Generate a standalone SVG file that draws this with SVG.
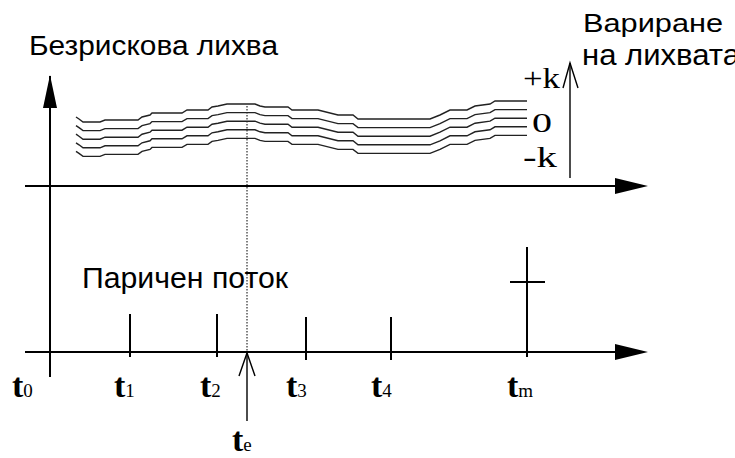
<svg xmlns="http://www.w3.org/2000/svg" width="735" height="458" viewBox="0 0 735 458">
<style>
.ax{stroke:#000;stroke-width:2;fill:none}
.tk{stroke:#000;stroke-width:2;fill:none}
.thin{stroke:#000;stroke-width:1.4;fill:none}
.wave{stroke:#222;stroke-width:1.4;fill:none}
.sans{font-family:"Liberation Sans",Arial,sans-serif;fill:#000}
.ser{font-family:"Liberation Serif","Times New Roman",serif;fill:#000}
.t{font-size:34px;font-weight:bold}
.sub{font-size:19px}
</style>
<defs>
<path id="w" d="M76,117 L79,119 L83,122 L100,122 L105,120 L138,120 L142,117 L150,115 L152,113 L182,113 L187,110 L208,110 L212,107 L218,106 L227,104 L255,104 L260,106 L265,107 L288,107 L292,110 L318,110 L338,115 L353,115 L358,119 L430,119 L440,115 L450,110 L467,110 L475,106 L490,104 L495,101 L527,101"/>
</defs>

<g id="connectors">
<line class="ax" x1="50" y1="377" x2="50" y2="76"/>
<path d="M43,108 L50,75 L57,108 Z" fill="#000"/>
<line class="ax" x1="25" y1="186" x2="616" y2="186"/>
<path d="M615,178 L648,186 L615,194 Z" fill="#000"/>
<line class="ax" x1="25" y1="352" x2="616" y2="352"/>
<path d="M615,344 L648,352 L615,360 Z" fill="#000"/>
<line x1="247" y1="106" x2="247" y2="352" stroke="#000" stroke-width="1" stroke-dasharray="1.5,1.5"/>
<line class="thin" x1="247" y1="421" x2="247" y2="353"/>
<path class="thin" d="M239,376 L247,353 L255,376"/>
<line class="thin" x1="570" y1="178" x2="570" y2="63"/>
<path class="thin" d="M563,88 L570,63 L578,88"/>
</g>

<g id="ticks">
<line class="tk" x1="130" y1="314" x2="130" y2="357"/>
<line class="tk" x1="217" y1="314" x2="217" y2="357"/>
<line class="tk" x1="306" y1="317" x2="306" y2="360"/>
<line class="tk" x1="391" y1="317" x2="391" y2="360"/>
<line class="tk" x1="527" y1="247" x2="527" y2="357"/>
<line class="tk" x1="510" y1="282" x2="545" y2="282"/>
</g>

<g id="waves">
<use href="#w" class="wave"/>
<use href="#w" class="wave" transform="translate(0,8.6)"/>
<use href="#w" class="wave" transform="translate(0,17.2)"/>
<use href="#w" class="wave" transform="translate(0,25.8)"/>
<use href="#w" class="wave" transform="translate(0,34.4)"/>
</g>

<g id="title">
<text class="sans" x="29" y="55" font-size="27" textLength="249" lengthAdjust="spacingAndGlyphs">Безрискова лихва</text>
</g>
<g id="variation-label">
<text class="sans" x="583" y="32" font-size="25" textLength="140" lengthAdjust="spacingAndGlyphs">Вариране</text>
<text class="sans" x="582" y="65" font-size="30" textLength="158" lengthAdjust="spacingAndGlyphs">на лихвата</text>
</g>
<g id="k-labels">
<text class="ser" x="523" y="88" font-size="30" textLength="37" lengthAdjust="spacingAndGlyphs">+k</text>
<text class="ser" x="532" y="132" font-size="28" textLength="20" lengthAdjust="spacingAndGlyphs">0</text>
<text class="ser" x="523" y="167" font-size="30" textLength="34" lengthAdjust="spacingAndGlyphs">-k</text>
</g>
<g id="cashflow-label">
<text class="sans" x="82" y="288" font-size="29" textLength="206" lengthAdjust="spacingAndGlyphs">Паричен поток</text>
</g>
<g id="time-labels">
<text class="ser" x="12" y="397"><tspan class="t">t</tspan><tspan class="sub">0</tspan></text>
<text class="ser" x="114" y="397"><tspan class="t">t</tspan><tspan class="sub">1</tspan></text>
<text class="ser" x="200" y="397"><tspan class="t">t</tspan><tspan class="sub">2</tspan></text>
<text class="ser" x="286" y="397"><tspan class="t">t</tspan><tspan class="sub">3</tspan></text>
<text class="ser" x="371" y="397"><tspan class="t">t</tspan><tspan class="sub">4</tspan></text>
<text class="ser" x="507" y="397"><tspan class="t">t</tspan><tspan class="sub">m</tspan></text>
<text class="ser" x="232" y="451"><tspan class="t">t</tspan><tspan class="sub">e</tspan></text>
</g>
</svg>
